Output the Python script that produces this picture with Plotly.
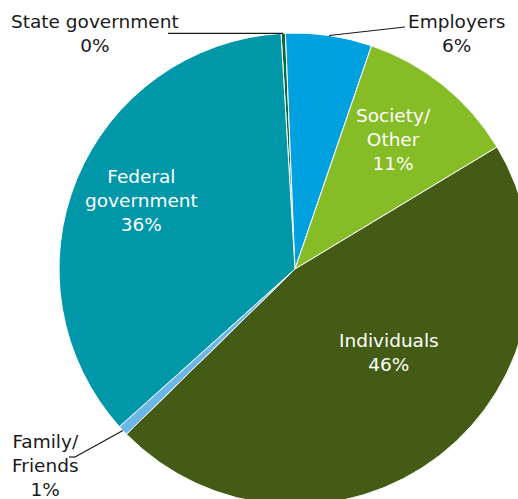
import math
import plotly.graph_objects as go

# Funding sources, in slice order (clockwise from the top)
sources = ["State government", "Employers", "Society/Other", "Individuals",
           "Family/Friends", "Federal government"]
shares = [0.3, 5.9, 11.1, 46.3, 0.7, 35.7]  # percent
display_names = ["State government", "Employers", "Society/<br>Other", "Individuals",
                 "Family/<br>Friends", "Federal<br>government"]
colors = ["#0B6B3A", "#00A1DE", "#86BC25", "#435B14", "#6DB6E8", "#0097A9"]

# Canvas and pie geometry (pixels)
W, H = 540, 512
CX, CY, R = 295, 269, 236
ROTATION = -3.4
FONT = "Verdana, DejaVu Sans, sans-serif"
FONT_SIZE = 18.5

fig = go.Figure(go.Pie(
    labels=sources,
    values=shares,
    sort=False,
    direction="clockwise",
    rotation=ROTATION,
    marker=dict(colors=colors, line=dict(color="white", width=1)),
    textinfo="none",
    hoverinfo="label+percent",
    showlegend=False,
    domain=dict(x=[(CX - R) / W, (CX + R) / W],
                y=[1 - (CY + R) / H, 1 - (CY - R) / H]),
))

total = sum(shares)


def px_to_paper(x, y):
    return x / W, 1 - y / H


def edge_point(i, frac=1.0):
    """Point on the slice's mid-angle at frac * radius, in pixels."""
    start = ROTATION + 360 * sum(shares[:i]) / total
    mid = math.radians(start + 180 * shares[i] / total)
    return CX + frac * R * math.sin(mid), CY - frac * R * math.cos(mid)


# Label centres (pixels) and whether they sit inside the pie
label_pos = {
    "State government": (95, 33, False),
    "Employers": (457, 33, False),
    "Society/Other": (393, 139, True),
    "Individuals": (389, 352, True),
    "Family/Friends": (45, 465, False),
    "Federal government": (141, 200, True),
}

annotations = []
for i, name in enumerate(sources):
    x, y, inside = label_pos[name]
    px, py = px_to_paper(x, y)
    annotations.append(dict(
        x=px, y=py, xref="paper", yref="paper", showarrow=False,
        text=f"{display_names[i]}<br>{shares[i]:.0f}%",
        font=dict(family=FONT, size=FONT_SIZE,
                  color="white" if inside else "#1a1a1a"),
        align="center", xanchor="center", yanchor="middle",
    ))

# Leader lines from slice edges to the outside labels
leader_ends = {
    "State government": [(168, None)],
    "Employers": [(405, 27)],
    "Family/Friends": [(75, 457), (69, 457)],
}
shapes = []
for name, pts in leader_ends.items():
    i = sources.index(name)
    ex, ey = edge_point(i)
    prev = (ex, ey)
    for (x, y) in pts:
        if y is None:
            y = prev[1]
        x0, y0 = px_to_paper(*prev)
        x1, y1 = px_to_paper(x, y)
        shapes.append(dict(type="line", xref="paper", yref="paper",
                           x0=x0, y0=y0, x1=x1, y1=y1,
                           line=dict(color="#1a1a1a", width=1.2)))
        prev = (x, y)

fig.update_layout(
    width=W, height=H,
    margin=dict(l=0, r=0, t=0, b=0),
    paper_bgcolor="white",
    plot_bgcolor="white",
    annotations=annotations,
    shapes=shapes,
)

fig.write_html("out.html")
